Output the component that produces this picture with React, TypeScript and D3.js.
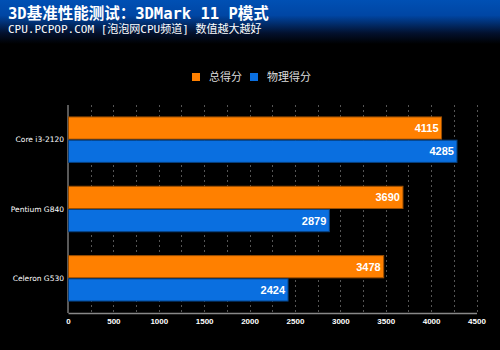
import React, { useEffect, useRef } from 'react';
import * as d3 from 'd3';

const categories = ['Core i3-2120', 'Pentium G840', 'Celeron G530'];
const seriesNames = ['总得分', '物理得分'];
const totalScores = [4115, 3690, 3478];
const physicsScores = [4285, 2879, 2424];
const tickValues = [0, 500, 1000, 1500, 2000, 2500, 3000, 3500, 4000, 4500];
const gridValues = d3.range(0, 4501, 250);

const COLORS = ['#ff8000', '#0a6fe0'];
const STROKES = ['#9a4d00', '#07407f'];

export default function App() {
  const ref = useRef<SVGSVGElement | null>(null);

  useEffect(() => {
    document.body.style.margin = '0';
    document.body.style.background = '#000';
    if (!ref.current) return;
    const width = 500;
    const height = 350;
    const svg = d3.select(ref.current);
    svg.selectAll('*').remove();

    const defs = svg.append('defs');
    const grad = defs
      .append('linearGradient')
      .attr('id', 'hdr')
      .attr('x1', 0)
      .attr('y1', 0)
      .attr('x2', 0)
      .attr('y2', 1);
    grad.append('stop').attr('offset', '0%').attr('stop-color', '#0050b4');
    grad.append('stop').attr('offset', '35%').attr('stop-color', '#0046a4');
    grad.append('stop').attr('offset', '75%').attr('stop-color', '#03112e');
    grad.append('stop').attr('offset', '100%').attr('stop-color', '#000');

    svg.append('rect').attr('width', width).attr('height', height).attr('fill', '#000');
    svg.append('rect').attr('width', width).attr('height', 44).attr('fill', 'url(#hdr)');

    // 标题
    const monoCjk = '"DejaVu Sans Mono", "Noto Sans CJK SC", monospace';
    svg
      .append('text')
      .attr('x', 8)
      .attr('y', 19)
      .attr('fill', '#fff')
      .attr('font-family', monoCjk)
      .attr('font-weight', 'bold')
      .attr('font-size', 15.5)
      .text('3D基准性能测试：3DMark 11 P模式');
    svg
      .append('text')
      .attr('x', 8)
      .attr('y', 33)
      .attr('fill', '#fff')
      .attr('font-family', monoCjk)
      .attr('font-size', 11)
      .text('CPU.PCPOP.COM [泡泡网CPU频道] 数值越大越好');

    // 图例
    const legend = svg.append('g').attr('font-family', '"Noto Sans CJK SC", sans-serif');
    const legendX = [192, 250];
    seriesNames.forEach((name, i) => {
      legend
        .append('rect')
        .attr('x', legendX[i])
        .attr('y', 73)
        .attr('width', 8)
        .attr('height', 8)
        .attr('fill', COLORS[i]);
      legend
        .append('text')
        .attr('x', legendX[i] + 17)
        .attr('y', 81)
        .attr('fill', '#ddd')
        .attr('font-size', 11)
        .text(name);
    });

    const margin = { top: 105, left: 68 };
    const innerW = 408.5;
    const innerH = 208;

    const x = d3.scaleLinear().domain([0, 4500]).range([0, innerW]);
    const y = d3
      .scaleBand()
      .domain(categories)
      .range([0, innerH])
      .paddingInner(0.33)
      .paddingOuter(0.165);
    const y1 = d3.scaleBand().domain(seriesNames).range([0, y.bandwidth()]);

    const g = svg.append('g').attr('transform', `translate(${margin.left},${margin.top})`);

    // 网格线
    g.selectAll('line.grid')
      .data(gridValues.slice(1))
      .join('line')
      .attr('class', 'grid')
      .attr('x1', (d) => Math.round(x(d)) + 0.5)
      .attr('x2', (d) => Math.round(x(d)) + 0.5)
      .attr('y1', 0)
      .attr('y2', innerH)
      .attr('stroke', '#555')
      .attr('stroke-dasharray', '2,3');

    // X轴
    const xAxis = g
      .append('g')
      .attr('transform', `translate(0,${innerH})`)
      .call(
        d3
          .axisBottom(x)
          .tickValues(tickValues)
          .tickFormat(d3.format('d'))
          .tickSize(0)
          .tickPadding(5)
      );
    xAxis.select('.domain').attr('stroke', '#888').attr('stroke-width', 1.5);
    xAxis
      .selectAll('text')
      .attr('fill', '#fff')
      .attr('font-family', '"Liberation Sans", Arial, sans-serif')
      .attr('font-weight', 'bold')
      .attr('font-size', 8);

    // Y轴
    g.append('line')
      .attr('x1', 0)
      .attr('x2', 0)
      .attr('y1', 0)
      .attr('y2', innerH)
      .attr('stroke', '#777')
      .attr('stroke-width', 1.5);

    g.selectAll('text.cat')
      .data(categories)
      .join('text')
      .attr('class', 'cat')
      .attr('x', -4)
      .attr('y', (d) => (y(d) ?? 0) + y.bandwidth() / 2)
      .attr('dy', '0.35em')
      .attr('text-anchor', 'end')
      .attr('fill', '#fff')
      .attr('font-family', '"DejaVu Sans", sans-serif')
      .attr('font-size', 7.5)
      .text((d) => d);

    const rows = categories.map((c, i) => ({
      cat: c,
      values: [totalScores[i], physicsScores[i]],
    }));

    const groups = g
      .selectAll('g.row')
      .data(rows)
      .join('g')
      .attr('class', 'row')
      .attr('transform', (d) => `translate(0,${y(d.cat)})`);

    groups
      .selectAll('rect')
      .data((d) => d.values.map((v, i) => ({ v, i })))
      .join('rect')
      .attr('x', 0.5)
      .attr('y', (d) => (y1(seriesNames[d.i]) ?? 0) + 0.5)
      .attr('width', (d) => x(d.v) - 0.5)
      .attr('height', y1.bandwidth() - 1)
      .attr('fill', (d) => COLORS[d.i])
      .attr('stroke', (d) => STROKES[d.i])
      .attr('stroke-width', 1);

    groups
      .selectAll('text.val')
      .data((d) => d.values.map((v, i) => ({ v, i })))
      .join('text')
      .attr('class', 'val')
      .attr('x', (d) => x(d.v) - 3)
      .attr('y', (d) => (y1(seriesNames[d.i]) ?? 0) + y1.bandwidth() / 2)
      .attr('dy', '0.36em')
      .attr('text-anchor', 'end')
      .attr('fill', '#fff')
      .attr('font-family', '"Liberation Sans", Arial, sans-serif')
      .attr('font-weight', 'bold')
      .attr('font-size', 11)
      .text((d) => d.v);
  }, []);

  return <svg ref={ref} width={500} height={350} style={{ display: 'block' }} />;
}
